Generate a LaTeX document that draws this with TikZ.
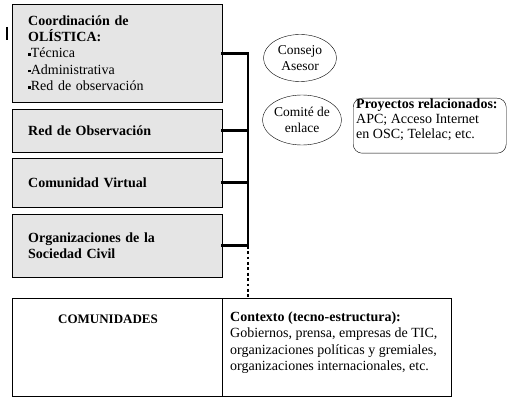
\documentclass[tikz,border=0pt]{standalone}
\usepackage{fontspec}
\setmainfont{Liberation Serif}
\usetikzlibrary{shapes.geometric}
\usetikzlibrary{positioning}
\newcommand{\sqbul}{\rule[.3ex]{2.6pt}{2.6pt}}

\begin{document}
\begin{tikzpicture}[x=1pt, y=-1pt,
  every node/.style={font=\fontsize{14}{16.3}\selectfont},
  unit/.style={draw, fill=black!10, anchor=north west, minimum width=210pt, text width=178pt, inner xsep=16pt, align=left},
  frame/.style={draw, anchor=north west, inner sep=0pt},
  circ/.style={draw, ellipse, minimum width=73pt, align=center, inner sep=0pt, font=\fontsize{13.5}{16}\selectfont},
  txt/.style={align=left, inner sep=0pt},
  bus/.style={line width=2.8pt, line cap=rect},
  link/.style={line width=2.8pt, dash pattern=on 2.8pt off 2.6pt}]
\useasboundingbox (0,0) rectangle (526,403);
\draw[line width=1.5pt] (7,27) -- (7,40);
\node[unit, minimum height=98pt] (coord) at (12,4) {\textbf{Coordinación de}\\\textbf{OLÍSTICA:}\\\sqbul Técnica\\\sqbul Administrativa\\\sqbul Red de observación};
\node[unit, minimum height=43pt] (red) at (12,109) {\textbf{Red de Observación}};
\node[unit, minimum height=49pt] (comu) at (12,158) {\textbf{Comunidad Virtual}};
\node[unit, minimum height=63pt] (osc) at (12,214) {\textbf{Organizaciones de la}\\\textbf{Sociedad Civil}};
\coordinate (spine) at (248,0);
\foreach \b in {coord, red, comu, osc}{
\draw[bus] (\b.east) -- (\b.east -| spine);}
\draw[bus] (coord.east -| spine) -- (osc.east -| spine);
\node[circ, minimum height=47pt] (consejo) at (300,58) {Consejo\\Asesor};
\node[circ, minimum height=50pt] (comite) at (302,120) {Comité de\\enlace};
\node[frame, rounded corners=9pt, minimum width=153pt, minimum height=55pt] (proy) at (353,98) {};
\node[txt, anchor=west, font=\fontsize{14}{15}\selectfont] (proytxt) at (356,120) {\textbf{Proyectos relacionados:}\\APC; Acceso Internet\\en OSC; Telelac; etc.};
\node[frame, minimum width=210pt, minimum height=98pt] (com) at (12,298) {};
\node[frame, minimum width=229pt, minimum height=98pt] (ctx) at (222,298) {};
\draw[link] (osc.east -| spine) -- (ctx.north -| spine);
\node[font=\fontsize{13}{16}\bfseries] (comtxt) at (108,319) {COMUNIDADES};
\node[txt, anchor=west] (ctxtxt) at (230,342.5) {\textbf{Contexto (tecno-estructura):}\\Gobiernos, prensa, empresas de TIC,\\organizaciones políticas y gremiales,\\organizaciones internacionales, etc.};
\end{tikzpicture}
\end{document}
